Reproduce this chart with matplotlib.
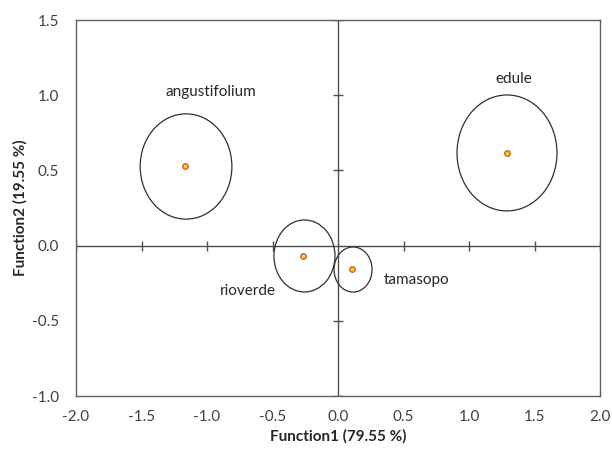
import matplotlib
matplotlib.use("Agg")
import matplotlib.pyplot as plt
from matplotlib.patches import Ellipse

plt.rcParams['font.family'] = ['Lato', 'DejaVu Sans']

groups = ["angustifolium", "edule", "rioverde", "tamasopo"]
cx = [-1.17, 1.29, -0.27, 0.107]
cy = [0.53, 0.616, -0.069, -0.154]
ew = [0.70, 0.763, 0.466, 0.29]
eh = [0.70, 0.771, 0.479, 0.30]
ecx = [-1.16, 1.29, -0.256, 0.115]
ecy = [0.526, 0.616, -0.069, -0.159]
lx = [-0.97, 1.34, -0.69, 0.60]
ly = [1.02, 1.11, -0.30, -0.23]

xticks = [-2.0, -1.5, -1.0, -0.5, 0.0, 0.5, 1.0, 1.5, 2.0]
yticks = [-1.0, -0.5, 0.0, 0.5, 1.0, 1.5]

fig = plt.figure(figsize=(6.12, 4.51), dpi=100)
ax = fig.add_axes([76/612, 1-396/451, 524/612, 376/451])
ax.set_xlim(-2.0, 2.0)
ax.set_ylim(-1.0, 1.5)
ax.set_xticks(xticks)
ax.set_yticks(yticks)
ax.set_xticklabels([f"{v:.1f}" for v in xticks])
ax.set_yticklabels([f"{v:.1f}" for v in yticks])
ax.tick_params(length=0, labelsize=11, colors='#404040')
ax.tick_params(axis='x', pad=10)
ax.tick_params(axis='y', pad=12)
for s in ax.spines.values():
    s.set_color('#606060')
    s.set_linewidth(1.0)

lc = '#505050'
ax.axhline(0, color=lc, lw=1.0, zorder=1)
ax.axvline(0, color=lc, lw=1.0, zorder=1)
tx = [v for v in xticks if v != 0.0]
ty = [v for v in yticks if v != 0.0]
ax.plot(tx, [0]*len(tx), ls='none', marker='|', ms=7, mew=1.0, color=lc, zorder=1)
ax.plot([0]*len(ty), ty, ls='none', marker='_', ms=7, mew=1.0, color=lc, zorder=1)

for i in range(len(groups)):
    ax.add_patch(Ellipse((ecx[i], ecy[i]), ew[i], eh[i], fill=False,
                         edgecolor='#303030', lw=0.9, zorder=2))
    ax.text(lx[i], ly[i], groups[i], ha='center', va='center', fontsize=11, color='#262626')
ax.scatter(cx, cy, s=16, facecolor='#ffd700', edgecolor='#c0504d', linewidth=0.9, zorder=3)

ax.set_xlabel("Function1 (79.55 %)", fontsize=11, fontweight='bold', color='#262626', labelpad=4)
ax.set_ylabel("Function2 (19.55 %)", fontsize=11, fontweight='bold', color='#262626', labelpad=3)

fig.savefig("out.png", dpi=100)
